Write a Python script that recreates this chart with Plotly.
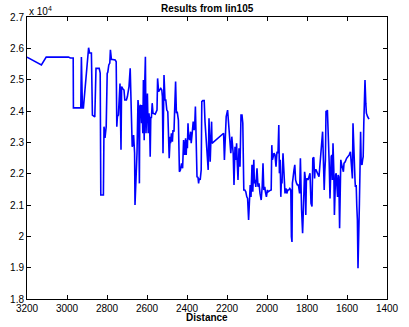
import plotly.graph_objects as go

# Distance values (x) and results (y)
distance = [3200, 3128, 3104, 2993, 2983, 2969, 2968, 2931, 2928, 2923, 2918, 2892, 2887, 2878, 2873, 2861, 2855, 2839, 2834, 2831,
            2818, 2815, 2810, 2804, 2799, 2796, 2791, 2786, 2783, 2778, 2759, 2754, 2751, 2748, 2743, 2738, 2735, 2730, 2727, 2722,
            2715, 2711, 2703, 2698, 2690, 2684, 2679, 2674, 2671, 2667, 2662, 2660, 2655, 2650, 2645, 2642, 2638, 2636, 2631, 2627,
            2624, 2621, 2618, 2614, 2611, 2608, 2605, 2602, 2598, 2594, 2590, 2587, 2584, 2581, 2578, 2574, 2570, 2559, 2550, 2547,
            2542, 2537, 2531, 2526, 2523, 2520, 2515, 2510, 2506, 2501, 2496, 2489, 2484, 2482, 2478, 2473, 2470, 2465, 2462, 2457,
            2453, 2449, 2443, 2438, 2433, 2427, 2422, 2417, 2412, 2407, 2404,
            2401, 2398, 2395, 2392, 2387, 2382, 2379, 2374, 2369, 2364, 2361, 2358, 2353, 2350, 2345, 2342, 2339, 2334, 2329, 2326,
            2321, 2314, 2310, 2305, 2300, 2294, 2290, 2287, 2284, 2281, 2277, 2275, 2217, 2213, 2209, 2204, 2197, 2193, 2186, 2181,
            2176, 2172, 2169, 2165, 2160, 2156, 2152, 2149, 2145, 2140, 2135, 2130, 2125, 2121, 2116, 2111, 2106, 2101, 2097, 2092,
            2087, 2084, 2080, 2075, 2071, 2066, 2063, 2059, 2056, 2053, 2050, 2045, 2040, 2035, 2029, 2024, 2020, 2016, 2011, 2008,
            2003, 1998, 1994, 1986, 1979, 1976, 1973, 1969, 1965, 1960, 1955, 1950, 1945, 1941, 1938, 1934, 1931, 1928, 1925, 1920,
            1915, 1910, 1905, 1901, 1896, 1891, 1886, 1881, 1878, 1875, 1873, 1870, 1865, 1861, 1857, 1852, 1848, 1843, 1839, 1837,
            1833, 1830, 1827, 1822, 1817, 1812, 1809, 1806, 1803, 1800, 1795, 1790, 1785, 1780, 1775, 1771, 1766, 1762, 1760, 1755,
            1750, 1745, 1740, 1736, 1731, 1726, 1722, 1718, 1714, 1711, 1708, 1705, 1702, 1698, 1695, 1692, 1689, 1685, 1683, 1679,
            1676, 1673, 1670, 1666, 1663, 1660, 1657, 1654, 1650, 1647, 1644, 1641, 1637, 1635, 1631, 1628, 1623, 1618, 1615, 1609,
            1602, 1596, 1589, 1583, 1580, 1577, 1573, 1570, 1567, 1564, 1560, 1558, 1554, 1551, 1548, 1545, 1541, 1538, 1535, 1532,
            1529, 1525, 1522, 1519, 1516, 1513, 1510, 1506, 1503, 1497, 1490]

result = [25720, 25470, 25720, 25720, 25690, 25690, 24100, 24100, 25720, 24100, 24100, 26020, 25850, 25850, 23870, 23810, 25360, 25360, 25210, 21320,
          21320, 23500, 23140, 23500, 25200, 25240, 25470, 25530, 25950, 25650, 25630, 25570, 23500, 23820, 23870, 24300, 24880, 22760, 24780, 24720,
          24670, 24350, 24350, 24460, 24780, 25360, 24140, 22860, 22910, 23230, 22650, 21000, 21800, 22650, 24350, 24140, 21690, 24140, 24190, 23610,
          24190, 23290, 24990, 23070, 24940, 25730, 23290, 24140, 24560, 23290, 23930, 23610, 22540, 23820, 23770, 24250, 23930, 23900, 24030, 25040,
          24620, 24670, 24720, 24670, 24460, 22650, 25150, 24350, 24350, 24030, 23980, 22490, 23180, 22970, 23290, 23020, 23390, 23340, 23980, 24940,
          23930, 23980, 23710, 22060, 22120, 22330, 22170, 23070, 22600, 23130, 22600,
          23070, 22810, 23610, 23180, 23070, 23340, 22970, 23290, 23660, 23390, 23610, 24140, 23180, 21900, 21880, 21690, 21850, 21800, 22120, 24300,
          24330, 24330, 23660, 23070, 22650, 22120, 23770, 22970, 22380, 22970, 23660, 22970, 23290, 22440, 23290, 23820, 24030, 23710, 23130, 22650,
          23180, 22860, 22650, 21640, 22860, 22440, 22970, 22380, 21800, 22810, 22220, 23870, 23870, 23610, 21480, 21480, 21420, 21260, 21210, 20520,
          21160, 21640, 21260, 22280, 21420, 22440, 21690, 21800, 21580, 22010, 22170, 21580, 21690, 21370, 21160, 21580, 22330, 21480, 21580, 21420,
          21260, 21480, 21420, 21460, 21480, 22910, 22440, 22540, 22650, 22600, 22220, 22700, 22650, 23550, 22010, 22440, 21260, 21800, 21690, 22650,
          22010, 21370, 21530, 21370, 21480, 21480, 21530, 21480, 19990, 19820, 21690, 21800, 22120, 22280, 21800, 21690, 21640, 21640, 21480, 21370,
          22490, 21370, 20840, 20100, 21050, 22060, 21900, 20680, 21800, 21850, 21800, 21960, 22010, 21050, 20950, 22490, 22520, 21850, 22120, 22120,
          22060, 22010, 21900, 22220, 22650, 22970, 23340, 22440, 21480, 22060, 22440, 23980, 23980, 24030, 23070, 22860, 22330, 21210, 21900, 22540,
          22600, 21800, 22970, 22120, 20680, 21900, 21960, 22010, 21370, 21260, 21960, 21900, 20260, 21800, 22440, 22330, 22220, 22060, 22330, 22380,
          22490, 22540, 22600, 22700, 22440, 21900, 21850, 23610, 22760, 22120, 21800, 21580, 21640, 20950, 20520, 18980, 19780, 21050, 22120, 23340,
          22330, 22280, 22440, 22540, 23610, 24990, 24990, 24250, 23930, 23820, 23740]

x_ticks = [3200, 3000, 2800, 2600, 2400, 2200, 2000, 1800, 1600, 1400]
y_ticks = [18000, 19000, 20000, 21000, 22000, 23000, 24000, 25000, 26000, 27000]
y_tick_text = ["1.8", "1.9", "2", "2.1", "2.2", "2.3", "2.4", "2.5", "2.6", "2.7"]

fig = go.Figure()
fig.add_trace(go.Scatter(x=distance, y=result, mode="lines",
                         line=dict(color="#0000ff", width=1.6), showlegend=False))

axis_common = dict(showline=True, linecolor="black", linewidth=1, mirror="ticks",
                   ticks="inside", ticklen=4, tickcolor="black", showgrid=False,
                   zeroline=False, tickfont=dict(family="Liberation Sans, Arial", size=10, color="black"))

fig.update_layout(
    width=409, height=327,
    margin=dict(l=25, r=10, t=17, b=28),
    paper_bgcolor="white", plot_bgcolor="white",
    xaxis=dict(range=[3200, 1400], tickvals=x_ticks, ticklabeloverflow="allow", **axis_common),
    yaxis=dict(range=[18000, 27000], tickvals=y_ticks, ticktext=y_tick_text, **axis_common),
    annotations=[
        dict(text="<b>Results from lin105</b>", xref="paper", yref="paper", x=0.5, y=1.0,
             yshift=9, xanchor="center", yanchor="middle", showarrow=False,
             font=dict(family="Liberation Sans, Arial", size=10, color="black")),
        dict(text="<b>Distance</b>", xref="paper", yref="paper", x=0.5, y=0,
             yshift=-18, xanchor="center", yanchor="middle", showarrow=False,
             font=dict(family="Liberation Sans, Arial", size=10, color="black")),
        dict(text="x 10<sup>4</sup>", xref="paper", yref="paper", x=0, y=1.0,
             xanchor="left", yanchor="bottom", showarrow=False, yshift=-2,
             font=dict(family="Liberation Sans, Arial", size=10, color="black")),
    ],
)

fig.write_html("out.html")
